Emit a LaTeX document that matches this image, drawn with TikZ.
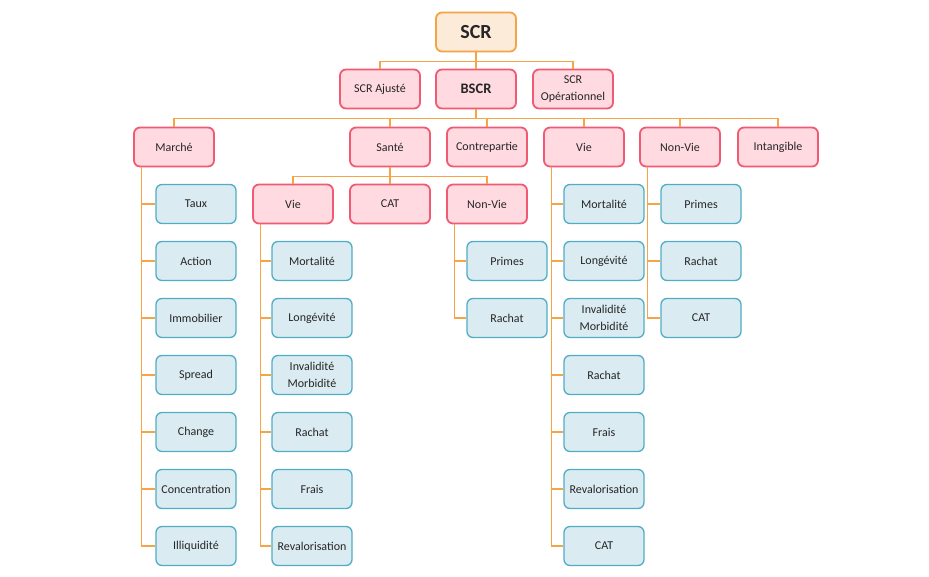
\documentclass[tikz,border=0pt]{standalone}
\usepackage{fontspec}
\setmainfont{Carlito}
\usepackage{xcolor,tikz}
\usetikzlibrary{calc,positioning}
\definecolor{rootline}{HTML}{F5A445}
\definecolor{rootfill}{HTML}{FDEBDA}
\definecolor{modline}{HTML}{F05A72}
\definecolor{modfill}{HTML}{FFDAE1}
\definecolor{leafline}{HTML}{4FAEC5}
\definecolor{leaffill}{HTML}{DAEBF1}
\definecolor{connline}{HTML}{F7A445}
\tikzset{
  box/.style={rounded corners=6pt, minimum width=80pt, minimum height=39pt,
    inner sep=1pt, align=center, text=black!85,
    font=\fontsize{12}{17.5}\selectfont},
  rootbox/.style={box, draw=rootline, fill=rootfill, line width=1.8pt},
  modbox/.style={box, draw=modline, fill=modfill, line width=1.8pt},
  leafbox/.style={box, draw=leafline, fill=leaffill, line width=1.3pt},
  conn/.style={draw=connline, line width=1.3pt}
}
\begin{document}
\begin{tikzpicture}[x=1pt,y=-1pt]
\useasboundingbox (0,0) rectangle (929,576);
% top of the tree
\node[rootbox, font=\bfseries\fontsize{20}{22}\selectfont] (scr) at (476,32) {SCR};
\node[modbox] (ajuste) at (380,89) {SCR Ajusté};
\node[modbox, font=\bfseries\fontsize{14.5}{16}\selectfont] (bscr) at (476,89) {BSCR};
\node[modbox] (oper) at (573,89) {SCR\\Opérationnel};
\draw[conn] (scr.south) -- ++(0,9) -| (ajuste.north);
\draw[conn] (scr.south) -- ++(0,9) -| (oper.north);
\draw[conn] (scr.south) -- (bscr.north);
% modules
\foreach \name/\txt/\x in {marche/Marché/174, sante/Santé/390, contre/Contrepartie/487,
    vie/Vie/584, nonvie/Non-Vie/680, intang/Intangible/778}
{
  \node[modbox] (\name) at (\x,147) {\txt};
  \draw[conn] (bscr.south) -- ++(0,9) -| (\name.north);
}
% sous-modules sante
\foreach \name/\txt/\x in {svie/Vie/293, scat/CAT/390, snonvie/Non-Vie/487}
{
  \node[modbox] (\name) at (\x,204) {\txt};
  \draw[conn] (sante.south) -- ++(0,9) -| (\name.north);
}
% risques
\foreach \name/\txt [count=\i from 0] in {mtaux/Taux, maction/Action, mimmo/Immobilier,
    mspread/Spread, mchange/Change, mconc/Concentration, milliq/Illiquidité}
{
  \node[leafbox] (\name) at (196,204+57*\i) {\txt};
  \draw[conn] ($(marche.south west)+(8.5,0)$) |- (\name.west);
}
\foreach \name/\txt [count=\i from 1] in {svmort/Mortalité, svlong/Longévité,
    svinval/{Invalidité\\Morbidité}, svrachat/Rachat, svfrais/Frais, svreval/Revalorisation}
{
  \node[leafbox] (\name) at (312,204+57*\i) {\txt};
  \draw[conn] ($(svie.south west)+(8.5,0)$) |- (\name.west);
}
\foreach \name/\txt [count=\i from 1] in {snprimes/Primes, snrachat/Rachat}
{
  \node[leafbox] (\name) at (507,204+57*\i) {\txt};
  \draw[conn] ($(snonvie.south west)+(8.5,0)$) |- (\name.west);
}
\foreach \name/\txt [count=\i from 0] in {vmort/Mortalité, vlong/Longévité,
    vinval/{Invalidité\\Morbidité}, vrachat/Rachat, vfrais/Frais, vreval/Revalorisation, vcat/CAT}
{
  \node[leafbox] (\name) at (604,204+57*\i) {\txt};
  \draw[conn] ($(vie.south west)+(8.5,0)$) |- (\name.west);
}
\foreach \name/\txt [count=\i from 0] in {nvprimes/Primes, nvrachat/Rachat, nvcat/CAT}
{
  \node[leafbox] (\name) at (701,204+57*\i) {\txt};
  \draw[conn] ($(nonvie.south west)+(8.5,0)$) |- (\name.west);
}
\end{tikzpicture}
\end{document}
